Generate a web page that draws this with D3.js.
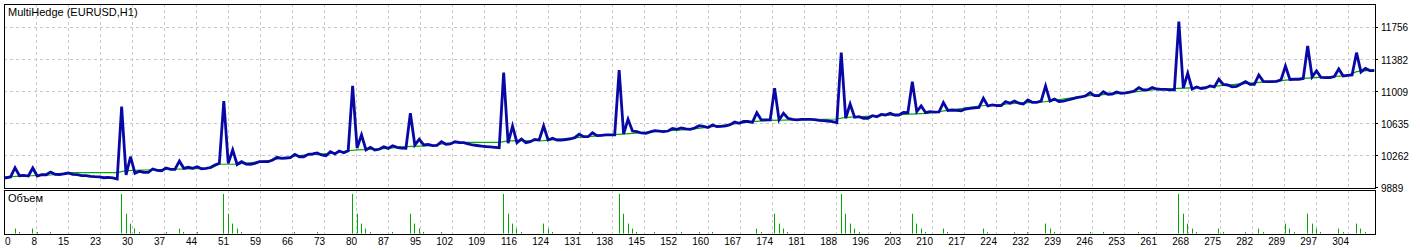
<!DOCTYPE html>
<html>
<head>
<meta charset="utf-8">
<script src="https://cdn.jsdelivr.net/npm/d3@7"></script>
<style>
    body { margin: 0; background: #ffffff; }
    svg { display: block; }
    text { font-family: "Liberation Sans", Arial, sans-serif; font-size: 10px; fill: #000000; }
    text.caption { font-size: 11px; }
</style>
</head>
<body>
<svg id="drawing_region"></svg>
<script>
// balance by trade number (0..309)
const balance = [
    10003, 10003, 10012, 10120, 10027, 10031, 10023, 10117, 10023, 10038,
    10038, 10070, 10043, 10041, 10047, 10058, 10043, 10038, 10027, 10027,
    10020, 10015, 10012, 10003, 10008, 10000, 9988, 10832, 10035, 10248,
    10055, 10078, 10066, 10066, 10105, 10090, 10085, 10117, 10101, 10101,
    10198, 10113, 10125, 10113, 10132, 10108, 10113, 10122, 10152, 10171,
    10898, 10171, 10327, 10157, 10190, 10163, 10160, 10171, 10190, 10190,
    10190, 10210, 10241, 10230, 10233, 10237, 10276, 10248, 10248, 10276,
    10280, 10292, 10268, 10260, 10307, 10280, 10315, 10295, 10318, 11074,
    10350, 10502, 10327, 10358, 10327, 10335, 10365, 10346, 10377, 10358,
    10350, 10346, 10755, 10385, 10451, 10385, 10391, 10377, 10381, 10423,
    10393, 10397, 10423, 10414, 10412, 10397, 10385, 10379, 10373, 10367,
    10362, 10358, 10353, 11229, 10405, 10607, 10412, 10455, 10412, 10423,
    10451, 10443, 10607, 10443, 10463, 10443, 10443, 10449, 10455, 10470,
    10510, 10482, 10482, 10528, 10494, 10498, 10502, 10502, 10502, 11260,
    10513, 10685, 10548, 10540, 10525, 10521, 10537, 10552, 10546, 10540,
    10548, 10578, 10568, 10583, 10572, 10568, 10583, 10610, 10601, 10589,
    10618, 10601, 10602, 10607, 10622, 10653, 10638, 10659, 10659, 10648,
    10762, 10677, 10677, 10677, 11047, 10677, 10755, 10697, 10685, 10677,
    10683, 10685, 10685, 10680, 10673, 10669, 10665, 10659, 10645, 11462,
    10697, 10863, 10708, 10715, 10697, 10697, 10727, 10715, 10741, 10735,
    10755, 10735, 10735, 10764, 10762, 11124, 10774, 10840, 10762, 10774,
    10768, 10770, 10879, 10788, 10793, 10790, 10785, 10805, 10811, 10817,
    10823, 10930, 10840, 10852, 10844, 10844, 10890, 10872, 10898, 10872,
    10863, 10910, 10883, 10883, 10898, 11074, 10898, 10922, 10893, 10898,
    10910, 10924, 10937, 10945, 10957, 10995, 10960, 10960, 11007, 10977,
    10980, 11003, 10988, 10992, 11003, 11015, 11054, 11027, 11027, 11056,
    11038, 11035, 11035, 11027, 11027, 11824, 11050, 11222, 11038, 11062,
    11044, 11050, 11074, 11062, 11152, 11091, 11085, 11065, 11070, 11097,
    11124, 11093, 11093, 11202, 11128, 11124, 11124, 11128, 11144, 11307,
    11149, 11152, 11152, 11161, 11540, 11179, 11249, 11173, 11170, 11170,
    11184, 11272, 11190, 11198, 11202, 11462, 11237, 11278, 11254, 11252
];

// equity, read at the trades where its slope changes
const equityTrade = [0, 2, 8, 11, 15, 26, 28, 36, 47, 49, 53, 61, 65, 68, 74, 78, 80, 84, 87, 91,
    97, 100, 105, 112, 114, 122, 132, 137, 142, 147, 155, 169, 173, 188, 190, 208, 211, 220, 229, 235,
    244, 252, 260, 270, 279, 288, 293, 303, 305, 309];
const equity = [10003, 10015, 10029, 10035, 10062, 10062, 10085, 10099, 10113, 10160, 10160, 10210, 10248, 10268, 10288, 10318, 10327, 10335, 10346, 10365,
    10377, 10405, 10416, 10416, 10432, 10435, 10482, 10502, 10521, 10540, 10568, 10657, 10673, 10688, 10708, 10755, 10774, 10840, 10872, 10890,
    10957, 10988, 11035, 11058, 11097, 11135, 11163, 11194, 11240, 11260];

// lots per trade
const volumeTrade = [3, 4, 7, 8, 11, 27, 28, 29, 30, 31, 37, 40, 41, 44, 50, 51, 52, 53, 54, 66,
    71, 79, 80, 81, 82, 83, 88, 92, 93, 94, 95, 99, 113, 114, 115, 116, 117, 122, 123, 124,
    130, 133, 139, 140, 141, 142, 143, 147, 153, 157, 160, 170, 171, 174, 175, 176, 177, 189, 190, 191,
    192, 193, 200, 205, 206, 207, 208, 212, 213, 221, 222, 228, 231, 235, 236, 237, 245, 248, 256, 265,
    266, 267, 268, 269, 274, 275, 280, 283, 284, 289, 290, 291, 294, 295, 296, 297, 301, 302, 305, 306, 307];
const volumeLots = [0.1, 0.03, 0.1, 0.03, 0.03, 0.8, 0.4, 0.2, 0.1, 0.03, 0.03, 0.1, 0.03, 0.03, 0.8, 0.4, 0.2, 0.1, 0.03, 0.03,
    0.03, 0.8, 0.4, 0.2, 0.1, 0.03, 0.03, 0.4, 0.2, 0.1, 0.03, 0.03, 0.8, 0.4, 0.2, 0.1, 0.03, 0.2, 0.1, 0.03,
    0.03, 0.03, 0.8, 0.4, 0.2, 0.1, 0.03, 0.03, 0.03, 0.03, 0.03, 0.1, 0.03, 0.4, 0.2, 0.1, 0.03, 0.8, 0.4, 0.2,
    0.1, 0.03, 0.03, 0.4, 0.2, 0.1, 0.03, 0.1, 0.03, 0.1, 0.03, 0.03, 0.03, 0.2, 0.1, 0.03, 0.03, 0.03, 0.03, 0.8,
    0.4, 0.2, 0.1, 0.03, 0.1, 0.03, 0.03, 0.1, 0.03, 0.2, 0.1, 0.03, 0.4, 0.2, 0.1, 0.03, 0.1, 0.03, 0.2, 0.1, 0.03];

const priceTicks = [9889, 10262, 10635, 11009, 11382, 11756];
const tradeTicks = [0, 8, 15, 23, 30, 37, 44, 51, 59, 66, 73, 80, 87, 95, 102, 109, 116, 124, 131, 138,
    145, 152, 160, 167, 174, 181, 188, 196, 203, 210, 217, 224, 232, 239, 246, 253, 261, 268, 275, 282,
    289, 297, 304];

class TesterGraph {

    constructor( config ) {
        this.config = config;
    }

    render() {
        let self = this;
        let c = self.config;
        let crisp = v => Math.floor(v) + 0.5;

        self.svg = d3.select( c.parent )
            .attr('width', c.width)
            .attr('height', c.height);

        self.xscale = d3.scaleLinear()
            .domain([0, 309])
            .range([1.7, 1374.3]);

        self.tickscale = d3.scalePoint()
            .domain(tradeTicks)
            .range([c.left, c.left + c.tickStep * (tradeTicks.length - 1)]);

        self.yscale = d3.scaleLinear()
            .domain([9889, 12030])
            .range([187.5, c.mainTop]);

        self.vscale = d3.scaleLinear()
            .domain([0, 0.88])
            .range([233.5, c.volTop]);

        // clip for main panel
        self.svg.append('clipPath').attr('id', 'mainclip')
            .append('rect')
            .attr('x', c.left + 1).attr('y', c.mainTop + 1)
            .attr('width', c.right - c.left - 1).attr('height', c.mainBottom - c.mainTop - 1);

        // dashed grid in both panels
        let grid = self.svg.append('g')
            .attr('stroke', '#c8c8c8')
            .attr('stroke-dasharray', '3,3');

        grid.selectAll('.vgrid').data(tradeTicks.slice(1))
            .join('line')
            .attr('class', 'vgrid')
            .attr('x1', d => crisp(self.tickscale(d)))
            .attr('x2', d => crisp(self.tickscale(d)))
            .attr('y1', c.mainTop)
            .attr('y2', c.mainBottom);

        grid.selectAll('.vgrid2').data(tradeTicks.slice(1))
            .join('line')
            .attr('class', 'vgrid2')
            .attr('x1', d => crisp(self.tickscale(d)))
            .attr('x2', d => crisp(self.tickscale(d)))
            .attr('y1', c.volTop)
            .attr('y2', c.volBottom);

        grid.selectAll('.hgrid').data(priceTicks.slice(1))
            .join('line')
            .attr('class', 'hgrid')
            .attr('x1', c.left)
            .attr('x2', c.right)
            .attr('y1', d => crisp(self.yscale(d)))
            .attr('y2', d => crisp(self.yscale(d)));

        // equity and balance
        let plot = self.svg.append('g').attr('clip-path', 'url(#mainclip)');

        let equityLine = d3.line()
            .x((d, i) => self.xscale(equityTrade[i]))
            .y(d => self.yscale(d));

        plot.append('path')
            .datum(equity)
            .attr('d', equityLine)
            .attr('fill', 'none')
            .attr('stroke', '#00a800')
            .attr('stroke-width', 1.2);

        let balanceLine = d3.line()
            .x((d, i) => self.xscale(i))
            .y(d => self.yscale(d));

        plot.append('path')
            .datum(balance)
            .attr('d', balanceLine)
            .attr('fill', 'none')
            .attr('stroke', '#0808a6')
            .attr('stroke-width', 2.8);

        // volume bars
        self.svg.append('g')
            .selectAll('line').data(volumeLots)
            .join('line')
            .attr('x1', (d, i) => crisp(self.xscale(volumeTrade[i])))
            .attr('x2', (d, i) => crisp(self.xscale(volumeTrade[i])))
            .attr('y1', self.vscale(0))
            .attr('y2', d => self.vscale(d))
            .attr('stroke', '#00a800')
            .attr('stroke-width', 1);

        // panel frames
        self.svg.append('rect')
            .attr('x', c.left + 0.5).attr('y', c.mainTop + 0.5)
            .attr('width', c.right - c.left).attr('height', c.mainBottom - c.mainTop)
            .attr('fill', 'none').attr('stroke', '#000');

        self.svg.append('rect')
            .attr('x', c.left + 0.5).attr('y', c.volTop + 0.5)
            .attr('width', c.right - c.left).attr('height', c.volBottom - c.volTop)
            .attr('fill', 'none').attr('stroke', '#000');

        // price axis on the right
        let yaxis = self.svg.append('g');
        yaxis.selectAll('line').data(priceTicks)
            .join('line')
            .attr('x1', c.right + 1).attr('x2', c.right + 3)
            .attr('y1', d => crisp(self.yscale(d)))
            .attr('y2', d => crisp(self.yscale(d)))
            .attr('stroke', '#000');
        yaxis.selectAll('text').data(priceTicks)
            .join('text')
            .attr('x', c.right + 6)
            .attr('y', d => self.yscale(d) + 4)
            .text(d => d);

        // trade number axis
        self.svg.append('g')
            .selectAll('text').data(tradeTicks)
            .join('text')
            .attr('x', d => d === 0 ? c.left + 1 : self.tickscale(d) + 1)
            .attr('y', 245)
            .attr('text-anchor', d => d === 0 ? 'start' : 'end')
            .text(d => d);

        // titles
        self.svg.append('text')
            .attr('class', 'caption')
            .attr('x', 8).attr('y', 16)
            .text('MultiHedge (EURUSD,H1)');

        self.svg.append('text')
            .attr('class', 'caption')
            .attr('x', 8).attr('y', 202)
            .text('Объем');
    }
}

var config = {
    parent: '#drawing_region',
    width: 1420,
    height: 251,
    left: 4, right: 1375,
    mainTop: 4, mainBottom: 188,
    volTop: 190, volBottom: 234,
    tickStep: 32
};

const chart = new TesterGraph( config );
chart.render();
</script>
</body>
</html>
